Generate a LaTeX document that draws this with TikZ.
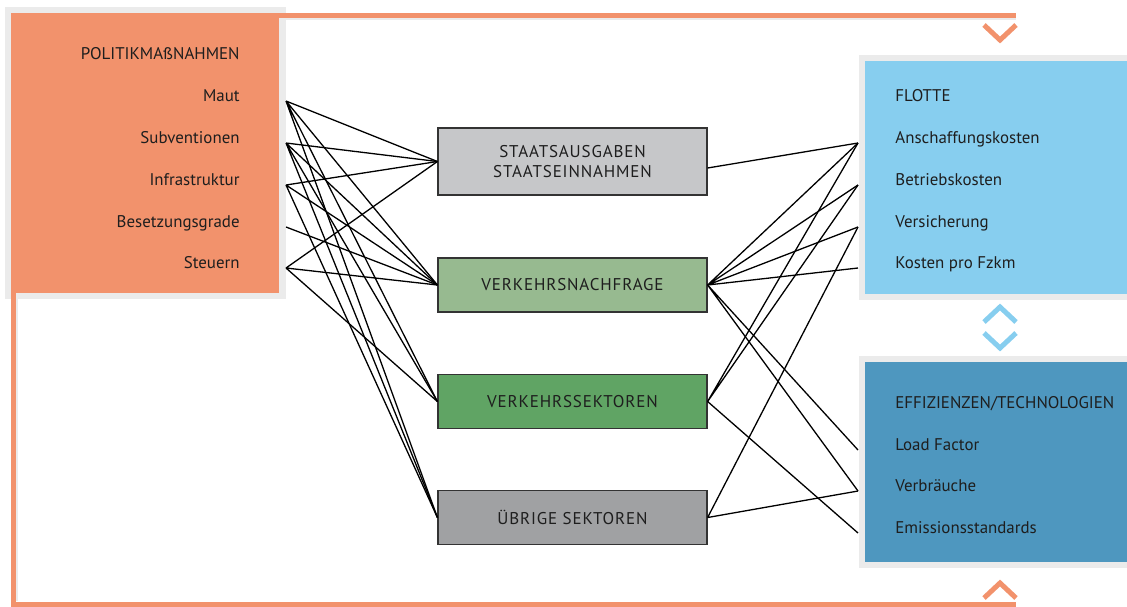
\documentclass[tikz,border=0pt]{standalone}
\usepackage{fontspec}
\setmainfont{PT Sans}

\definecolor{polorange}{HTML}{F2926C}
\definecolor{shadowgray}{HTML}{EBEBEB}
\definecolor{flotteblue}{HTML}{87CEEF}
\definecolor{effblue}{HTML}{4E97BF}
\definecolor{staatgray}{HTML}{C6C7C9}
\definecolor{nachfragegreen}{HTML}{97BA90}
\definecolor{sektorgreen}{HTML}{60A464}
\definecolor{uebriggray}{HTML}{A0A1A3}
\definecolor{textdark}{HTML}{1E1E1E}

\tikzset{
  item/.style={font=\fontsize{8.45}{10}\selectfont, text=textdark, inner sep=0pt},
  centerbox/.style={draw=black!80, line width=0.6pt, minimum width=134.5pt, minimum height=27pt,
    inner sep=0pt, align=center, text=textdark,
    font=\fontsize{8.5}{10.4}\selectfont\addfontfeature{LetterSpace=5}},
  link/.style={black, line width=0.65pt},
  chevron/.style={line width=2.5pt, line join=miter},
  bracket/.style={polorange, line width=2.5pt},
}

\begin{document}
\begin{tikzpicture}[x=0.5pt,y=-0.5pt]
\useasboundingbox (0,0) rectangle (1127,606);

% boxes
\fill[shadowgray] (5,7) rectangle (286,299);
\fill[polorange] (11,13) rectangle (279,293);
\fill[shadowgray] (859,55) rectangle (1127,300);
\fill[flotteblue] (865,61) rectangle (1127,294);
\fill[shadowgray] (859,356) rectangle (1127,568);
\fill[effblue] (865,362) rectangle (1127,562);

% bracket
\draw[shadowgray, line width=0.8pt] (286,19) -- (1016,19);
\draw[shadowgray, line width=0.8pt] (17,299) -- (17,601);
\draw[bracket] (279,15.5) -- (1016,15.5);
\draw[bracket] (13.5,293) -- (13.5,604) -- (1016,604);

\draw[chevron, polorange] (984,25) -- (1000,40) -- (1016,25);
\draw[chevron, flotteblue] (984,322) -- (1000,307) -- (1016,322);
\draw[chevron, flotteblue] (984,333) -- (1000,348) -- (1016,333);
\draw[chevron, polorange] (984,598) -- (1000,583) -- (1016,598);

% left items
\node[item, anchor=base east] (politik) at (240,59) {POLITIKMAßNAHMEN};
\node[item, anchor=base east] (maut) at (240,101) {Maut};
\node[item, anchor=base east] (subv) at (240,143) {Subventionen};
\node[item, anchor=base east] (infra) at (240,185) {Infrastruktur};
\node[item, anchor=base east] (besetz) at (240,227) {Besetzungsgrade};
\node[item, anchor=base east] (steuern) at (240,268) {Steuern};

\coordinate (maut-r) at (286,0 |- maut.base);
\coordinate (subv-r) at (286,0 |- subv.base);
\coordinate (infra-r) at (286,0 |- infra.base);
\coordinate (besetz-r) at (286,0 |- besetz.base);
\coordinate (steuern-r) at (286,0 |- steuern.base);

% right items
\node[item, anchor=base west] (flotte) at (895,101) {FLOTTE};
\node[item, anchor=base west] (anschaff) at (895,143) {Anschaffungskosten};
\node[item, anchor=base west] (betrieb) at (895,185) {Betriebskosten};
\node[item, anchor=base west] (versich) at (895,227) {Versicherung};
\node[item, anchor=base west] (fzkm) at (895,268) {Kosten pro Fzkm};
\node[item, anchor=base west] (effiz) at (895,408) {EFFIZIENZEN/TECHNOLOGIEN};
\node[item, anchor=base west] (load) at (895,450) {Load Factor};
\node[item, anchor=base west] (verbr) at (895,491) {Verbräuche};
\node[item, anchor=base west] (emiss) at (895,533) {Emissionsstandards};

\coordinate (anschaff-l) at (858,0 |- anschaff.base);
\coordinate (betrieb-l) at (858,0 |- betrieb.base);
\coordinate (versich-l) at (858,0 |- versich.base);
\coordinate (fzkm-l) at (858,0 |- fzkm.base);
\coordinate (load-l) at (858,0 |- load.base);
\coordinate (verbr-l) at (858,0 |- verbr.base);
\coordinate (emiss-l) at (858,0 |- emiss.base);

% center
\node[centerbox, fill=staatgray, minimum height=33.5pt] (staat) at (572.5,161.5) {STAATSAUSGABEN\\STAATSEINNAHMEN};
\node[centerbox, fill=nachfragegreen] (nachfrage) at (572.5,285) {VERKEHRSNACHFRAGE};
\node[centerbox, fill=sektorgreen] (sektoren) at (572.5,401.5) {VERKEHRSSEKTOREN};
\node[centerbox, fill=uebriggray] (uebrige) at (572.5,517.5) {ÜBRIGE SEKTOREN};

% links left
\draw[link] (maut-r) -- (staat.west) (maut-r) -- (nachfrage.west) (maut-r) -- (sektoren.west) (maut-r) -- (uebrige.west);
\draw[link] (subv-r) -- (staat.west) (subv-r) -- (nachfrage.west) (subv-r) -- (sektoren.west) (subv-r) -- (uebrige.west);
\draw[link] (infra-r) -- (staat.west) (infra-r) -- (nachfrage.west) (infra-r) -- (uebrige.west);
\draw[link] (besetz-r) -- (nachfrage.west);
\draw[link] (steuern-r) -- (staat.west) (steuern-r) -- (nachfrage.west) (steuern-r) -- (sektoren.west);

% links right
\draw[link] ([yshift=-3.25pt]staat.east) -- (anschaff-l);
\draw[link] (nachfrage.east) -- (anschaff-l) (nachfrage.east) -- (betrieb-l) (nachfrage.east) -- (versich-l) (nachfrage.east) -- (fzkm-l);
\draw[link] (nachfrage.east) -- (load-l) (nachfrage.east) -- (verbr-l);
\draw[link] (sektoren.east) -- (anschaff-l) (sektoren.east) -- (betrieb-l) (sektoren.east) -- (emiss-l);
\draw[link] (uebrige.east) -- (versich-l) (uebrige.east) -- (verbr-l);

\end{tikzpicture}
\end{document}
